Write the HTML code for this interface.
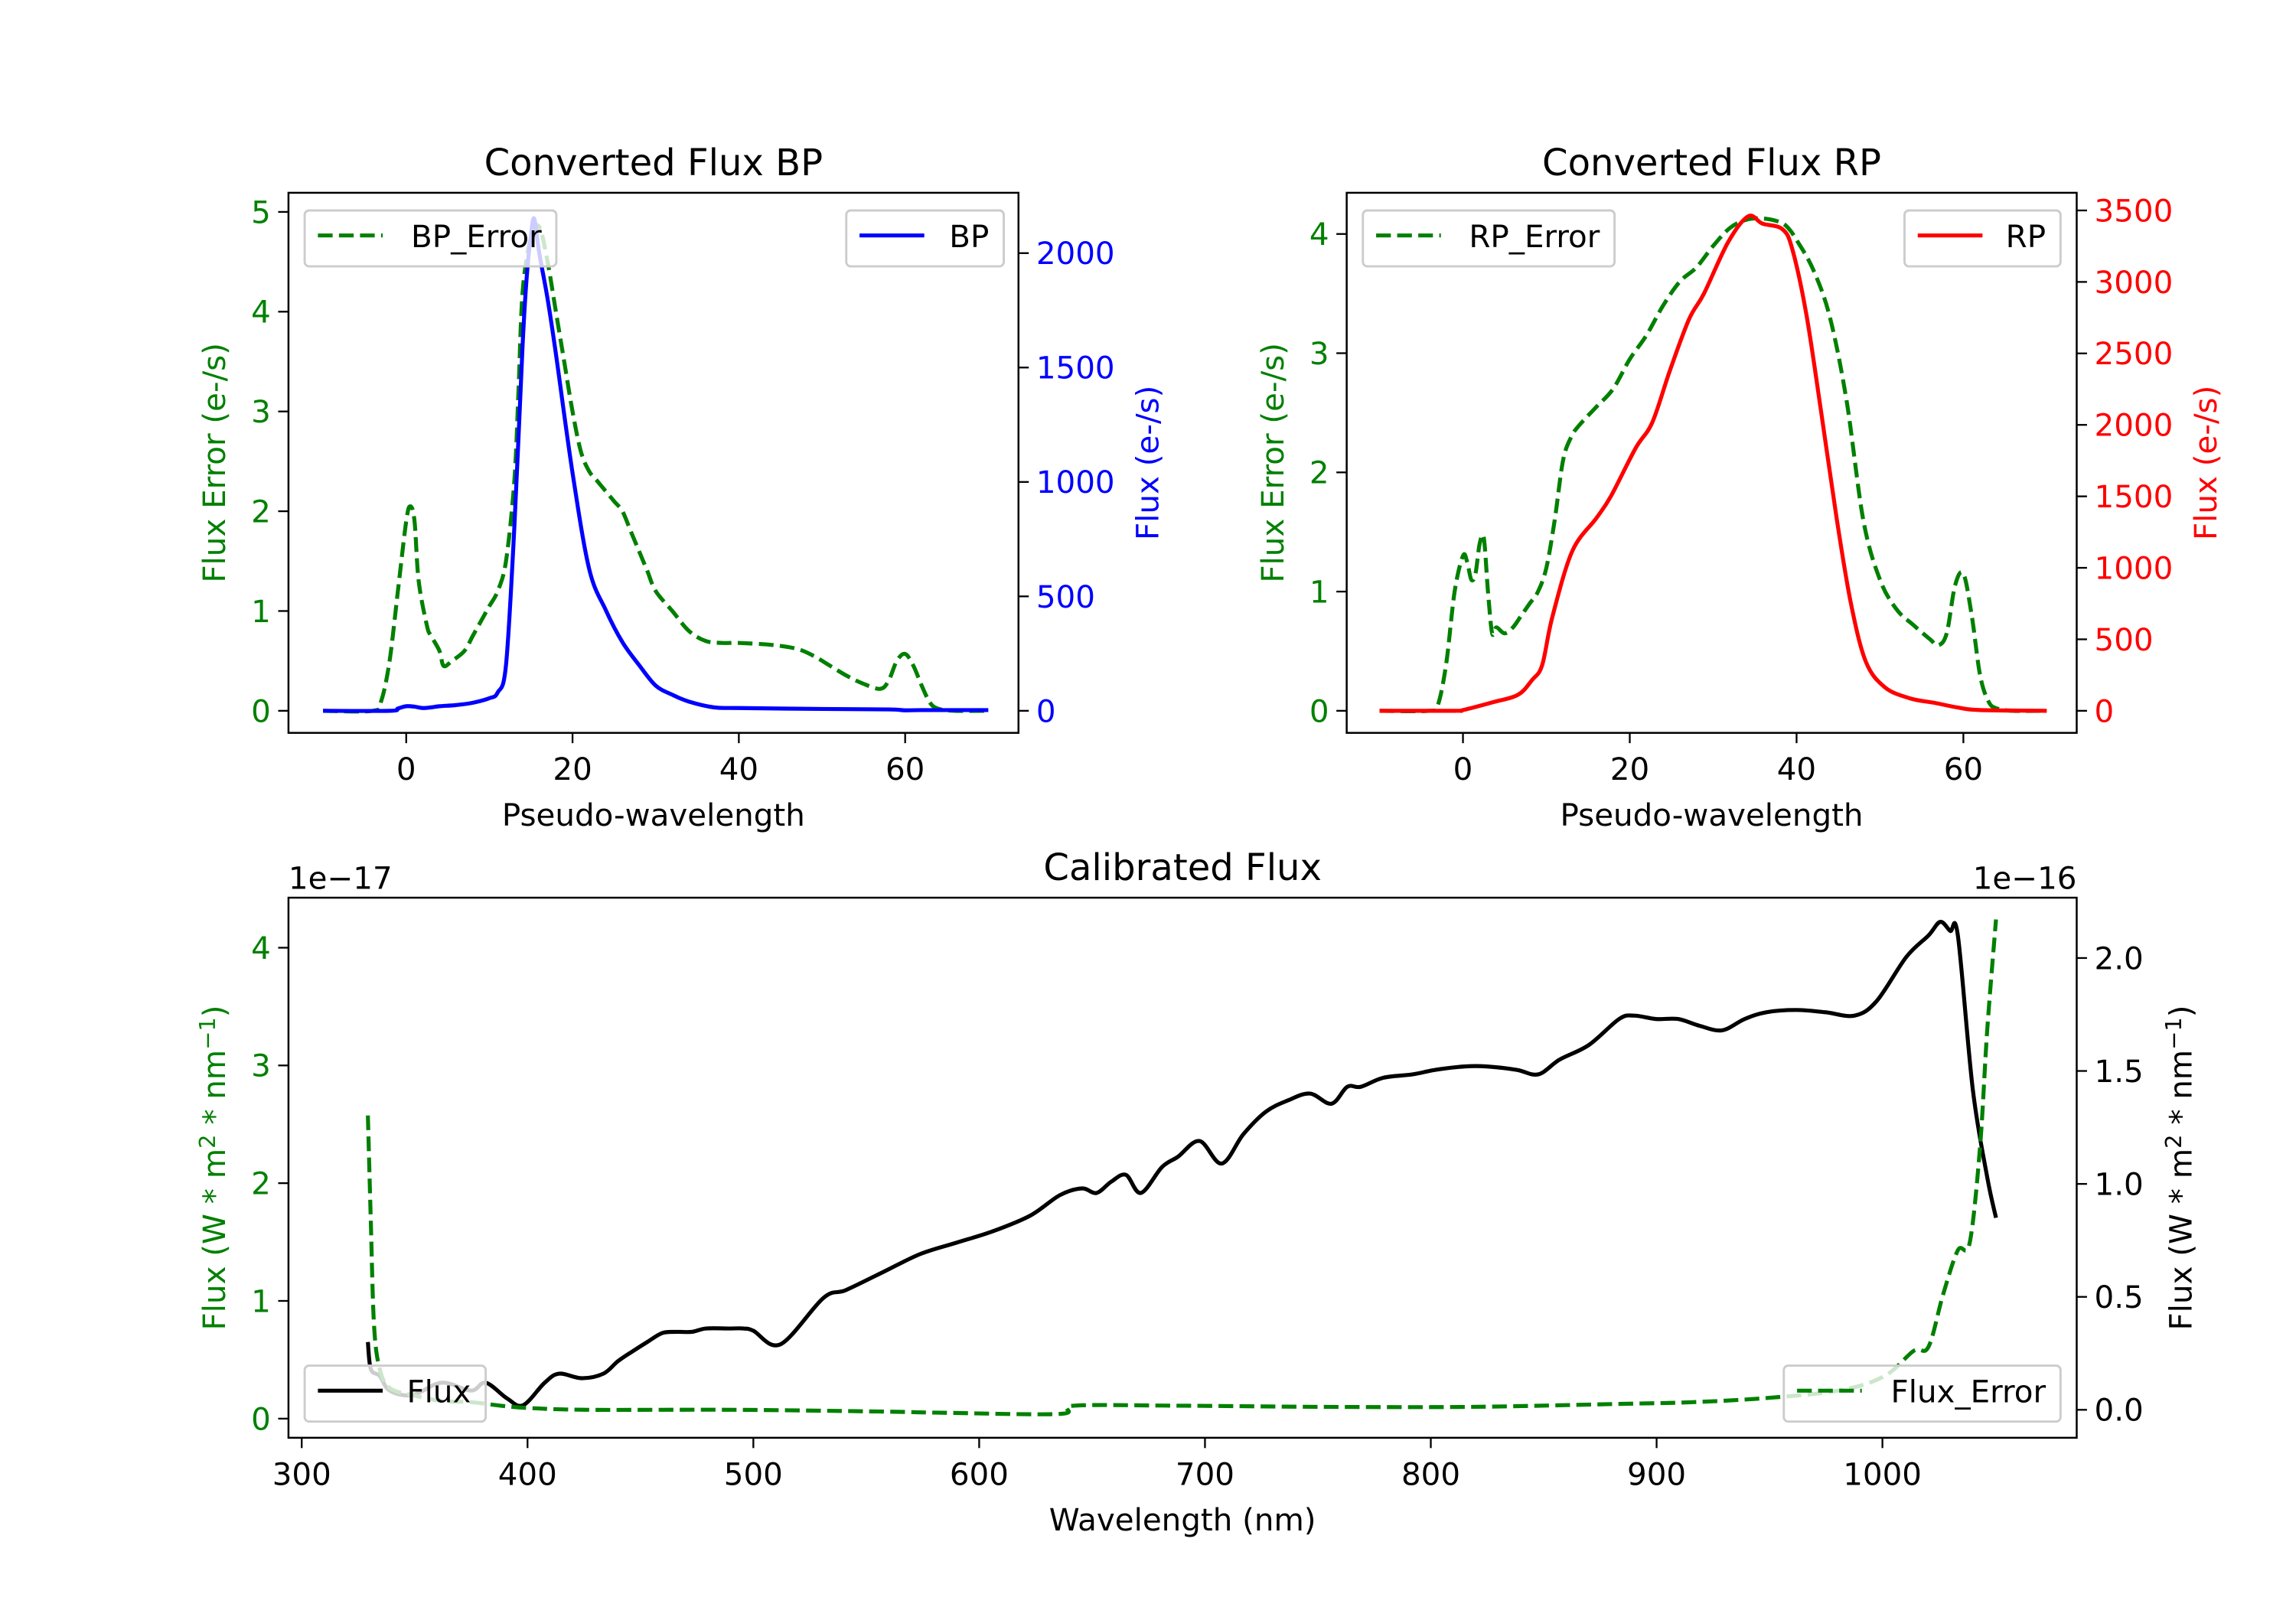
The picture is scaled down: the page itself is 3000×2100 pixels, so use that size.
<!DOCTYPE html>
<html><head><meta charset="utf-8"><title>Flux charts</title>
<style>html,body{margin:0;padding:0;background:#fff}svg{display:block}text{font-family:"DejaVu Sans","Liberation Sans",sans-serif}</style>
</head><body>
<svg id="fig" xmlns="http://www.w3.org/2000/svg" width="3000" height="2100" viewBox="0 0 1560 1092"></svg>
<script>
// ---------- data ----------
const bpErrX=[-10,-4,-3,-2,-1,0,0.5,1,1.5,2.5,3,4,4.5,5.5,7,8,9,10,11,12,13,13.5,14,15,16,17,18,19,20,21,22,23,24,25,26,27,28,29,30,32,34,36,38,40,44,47,49,51,53,55,57,58,59,60,61,62,63,64,66,70];
const bpErrY=[0,0,0.1,0.5,1.2,1.9,2.05,1.9,1.3,0.85,0.75,0.6,0.45,0.5,0.6,0.75,0.9,1.05,1.2,1.5,2.3,3.2,4.2,4.75,4.85,4.5,4.0,3.5,3.0,2.6,2.4,2.3,2.2,2.1,2.0,1.8,1.6,1.4,1.2,1.0,0.8,0.7,0.68,0.68,0.66,0.62,0.55,0.45,0.35,0.27,0.22,0.3,0.5,0.57,0.45,0.25,0.08,0.02,0,0];
const bpX=[-10,-2,-1,0,1,2,3,4,6,8,10,11,12,13,14,14.5,15,15.4,16,17,18,20,22,24,26,28,30,32,34,37,40,50,58,60,62,70];
const bpY=[0,0,10,20,18,12,15,20,25,35,55,80,200,800,1600,1900,2080,2150,2000,1800,1560,1040,620,440,300,200,110,70,40,15,12,8,6,2,3,3];
const rpErrX=[-10,-4,-3,-2,-1,0,0.5,1,1.5,2,2.5,3,3.5,4,5,6,7,8,9,10,11,12,13,14,16,18,20,22,24,26,28,30,32,34,36,38,39,40,42,44,46,48,50,52,54,56,57,58,59,60,61,62,63,64,66,70];
const rpErrY=[0,0,0.05,0.4,1.0,1.3,1.25,1.1,1.15,1.4,1.45,1.0,0.65,0.7,0.65,0.7,0.8,0.9,1.0,1.2,1.6,2.1,2.3,2.4,2.55,2.7,2.95,3.15,3.4,3.6,3.72,3.9,4.05,4.12,4.13,4.1,4.05,3.95,3.7,3.3,2.6,1.6,1.1,0.85,0.72,0.6,0.55,0.65,1.05,1.15,0.8,0.3,0.08,0.02,0,0];
const rpX=[-10,-1,0,3.6,6.6,8.3,9.5,10.7,13.1,16,17.75,20.7,22.7,24.8,27.1,28.9,31.8,34.2,35.9,38.3,39.5,41.2,43,44.8,46.5,48.3,50.6,53.6,56.5,59.4,62,70];
const rpY=[0,0,5,60,112,216,320,652,1116,1348,1502,1837,2017,2378,2738,2919,3279,3459,3408,3369,3227,2764,2069,1348,756,344,164,87,56,22,5,0];
const fluxX=[329.3,330.6,334.5,339,349,362,375,381.5,391,398,407.6,414,424,433.6,440,446.7,453,459.7,466,472.7,479,489,495.6,500,512,531,541,557.5,574,590,606,622.7,635.7,645.5,652,658.5,665,671.6,681,688,697.6,707.4,717,727,736.8,746.5,756,763,769,779,792,802,815,824.8,838,847.6,857,870,883.4,890,899.7,909.5,919,929,939,948.6,961.7,974.7,987.7,997.5,1010.6,1020.4,1025.6,1030,1033.4,1040,1046.4,1050.3];
const fluxY=[0.3,0.18,0.15,0.085,0.065,0.12,0.085,0.12,0.05,0.02,0.12,0.16,0.14,0.16,0.215,0.26,0.3,0.34,0.345,0.345,0.36,0.36,0.36,0.35,0.29,0.495,0.53,0.61,0.69,0.74,0.79,0.86,0.95,0.98,0.96,1.01,1.04,0.96,1.075,1.12,1.19,1.09,1.22,1.32,1.37,1.40,1.355,1.43,1.43,1.47,1.485,1.505,1.52,1.52,1.505,1.485,1.55,1.615,1.73,1.745,1.73,1.73,1.70,1.68,1.73,1.76,1.77,1.76,1.745,1.81,2.005,2.10,2.16,2.12,2.10,1.42,1.03,0.85];
const ferrX=[329.3,330.6,332,334.5,339,349,362,375,388,401,427,492,557.5,583.6,635.7,642,688,753,818,883,916,948.6,981,1000.8,1013.8,1020.4,1026.8,1033.4,1038.6,1043.2,1046.4,1050.3];
const ferrY=[2.575,1.675,0.8,0.425,0.26,0.2,0.15,0.14,0.11,0.09,0.075,0.075,0.06,0.05,0.04,0.11,0.11,0.1,0.1,0.125,0.14,0.175,0.24,0.36,0.575,0.61,1.05,1.43,1.49,2.3,3.3,4.24];
const bpXTicks=[0,20,40,60], bpLTicks=[0,1,2,3,4,5], bpRTicks=[0,500,1000,1500,2000];
const rpXTicks=[0,20,40,60], rpLTicks=[0,1,2,3,4], rpRTicks=[0,500,1000,1500,2000,2500,3000,3500];
const calXTicks=[300,400,500,600,700,800,900,1000], calLTicks=[0,1,2,3,4], calRTicks=["0.0","0.5","1.0","1.5","2.0"];

// ---------- drawing ----------
const NS="http://www.w3.org/2000/svg", svg=document.getElementById('fig');
function mk(tag,attrs,parent,txt){const e=document.createElementNS(NS,tag);for(const k in attrs)e.setAttribute(k,attrs[k]);if(txt!==undefined)e.textContent=txt;(parent||svg).appendChild(e);return e;}
function lin(d0,d1,p0,p1){return v=>p0+(v-d0)*(p1-p0)/(d1-d0);}
function pathD(xs,ys,sx,sy){
  const p=xs.map((x,i)=>[sx(x),sy(ys[i])]);
  let d='M'+p[0][0].toFixed(2)+' '+p[0][1].toFixed(2);
  for(let i=0;i<p.length-1;i++){
    const p0=p[i-1]||p[i],p1=p[i],p2=p[i+1],p3=p[i+2]||p[i+1];
    const c1=[p1[0]+(p2[0]-p0[0])/6,p1[1]+(p2[1]-p0[1])/6];
    const c2=[p2[0]-(p3[0]-p1[0])/6,p2[1]-(p3[1]-p1[1])/6];
    d+=' C'+c1[0].toFixed(2)+' '+c1[1].toFixed(2)+' '+c2[0].toFixed(2)+' '+c2[1].toFixed(2)+' '+p2[0].toFixed(2)+' '+p2[1].toFixed(2);
  }
  return d;
}
const G='#008000';

function panel(o){
  const g=mk('g',{});
  
  
  const t=mk('text',{x:(o.L+o.R)/2,y:o.T-12,'text-anchor':'middle','font-size':25},g,o.title);
  
  o.xt.forEach(v=>{const x=o.sx(+v);mk('line',{x1:x,x2:x,y1:o.B,y2:o.B+7,stroke:'#000','stroke-width':1.2},g);
    const tl=mk('text',{x:x,y:o.B+32,'text-anchor':'middle','font-size':21},g,v);
    });
  o.lt.forEach(v=>{const y=o.syl(+v);mk('line',{x1:o.L-7,x2:o.L,y1:y,y2:y,stroke:'#000','stroke-width':1.2},g);
    const tl=mk('text',{x:o.L-12,y:y+7.5,'text-anchor':'end','font-size':21,fill:o.lc},g,v);
    });
  o.rt.forEach(v=>{const y=o.syr(+v);mk('line',{x1:o.R,x2:o.R+7,y1:y,y2:y,stroke:'#000','stroke-width':1.2},g);
    const tl=mk('text',{x:o.R+12,y:y+7.5,'text-anchor':'start','font-size':21,fill:o.rc},g,v);
    });
  const xl=mk('text',{x:(o.L+o.R)/2,y:o.B+63,'text-anchor':'middle','font-size':21},g,o.xlab);
  
  const cy=(o.T+o.B)/2;
  const yl=mk('text',{x:0,y:0,transform:`translate(${o.ylx},${cy}) rotate(-90)`,'text-anchor':'middle','font-size':21,fill:o.lc},g);
  yl.innerHTML=o.ylab;
  const yr=mk('text',{x:0,y:0,transform:`translate(${o.yrx},${cy}) rotate(-90)`,'text-anchor':'middle','font-size':21,fill:o.rc},g);
  yr.innerHTML=o.yrlab;
  const cid='c'+o.name;const cp=mk('clipPath',{id:cid},g);mk('rect',{x:o.L,y:o.T,width:o.R-o.L,height:o.B-o.T},cp);
  const plot=mk('g',{'clip-path':`url(#${cid})`},g);
  const s2=mk('path',{d:pathD(o.x2,o.y2,o.sx,o.syr),fill:'none',stroke:o.c2,'stroke-width':2.7,'stroke-linejoin':'round','stroke-dasharray':o.d2||'none'},plot);
  
  const s1=mk('path',{d:pathD(o.x1,o.y1,o.sx,o.syl),fill:'none',stroke:o.c1,'stroke-width':2.7,'stroke-linejoin':'round','stroke-dasharray':o.d1||'none'},plot);
  
  if(o.order==='errTop'){plot.appendChild(s2);}
  mk('rect',{x:o.L,y:o.T,width:o.R-o.L,height:o.B-o.T,fill:'none',stroke:'#000','stroke-width':1.3},g);
  o.legends.forEach(lg=>{
    const lgG=mk('g',{},g);
    mk('rect',{x:lg.x,y:lg.y,width:lg.w,height:38,rx:3,fill:'#fff','fill-opacity':0.8,stroke:'#ccc','stroke-width':1.5},lgG);
    mk('line',{x1:lg.x+9,x2:lg.x+53,y1:lg.y+17,y2:lg.y+17,stroke:lg.c,'stroke-width':2.7,'stroke-dasharray':lg.d||'none'},lgG);
    mk('text',{x:lg.x+lg.w-10,y:lg.y+25,'text-anchor':'end','font-size':21},lgG,lg.t);
  });
  return g;
}
const DASH='10 4.3';
panel({name:'bp-panel',title:'Converted Flux BP',L:196,R:692,T:131,B:498,sx:lin(0,60,276,615),syl:lin(0,5,483,144),syr:lin(0,2000,483,172),
  xt:bpXTicks,lt:bpLTicks,rt:bpRTicks,lc:G,rc:'#0000ff',xlab:'Pseudo-wavelength',ylab:'Flux Error (e-/s)',yrlab:'Flux (e-/s)',ylx:153,yrx:787,
  x1:bpErrX,y1:bpErrY,c1:G,d1:DASH,n1:'bp-error-line',x2:bpX,y2:bpY,c2:'#0000ff',n2:'bp-flux-line',order:'errTop',
  legends:[{x:207,y:143,w:171,c:G,d:DASH,t:'BP_Error'},{x:575,y:143,w:107,c:'#0000ff',t:'BP'}]});
panel({name:'rp-panel',title:'Converted Flux RP',L:915,R:1411,T:131,B:498,sx:lin(0,60,994,1334),syl:lin(0,4,483,159),syr:lin(0,3500,483,143),
  xt:rpXTicks,lt:rpLTicks,rt:rpRTicks,lc:G,rc:'#ff0000',xlab:'Pseudo-wavelength',ylab:'Flux Error (e-/s)',yrlab:'Flux (e-/s)',ylx:872,yrx:1506,
  x1:rpErrX,y1:rpErrY,c1:G,d1:DASH,n1:'rp-error-line',x2:rpX,y2:rpY,c2:'#ff0000',n2:'rp-flux-line',order:'errTop',
  legends:[{x:926,y:143,w:171,c:G,d:DASH,t:'RP_Error'},{x:1294,y:143,w:106,c:'#ff0000',t:'RP'}]});
panel({name:'calibrated-panel',title:'Calibrated Flux',L:196,R:1411,T:610,B:977,sx:lin(300,1000,205,1279),syl:lin(0,4,964,644),syr:lin(0,2,958,651),
  xt:calXTicks,lt:calLTicks,rt:calRTicks,lc:G,rc:'#000',xlab:'Wavelength (nm)',
  ylab:'Flux (W * m<tspan dy="-7" font-size="15">2</tspan><tspan dy="7"> * nm</tspan><tspan dy="-7" font-size="15">−1</tspan><tspan dy="7">)</tspan>',
  yrlab:'Flux (W * m<tspan dy="-7" font-size="15">2</tspan><tspan dy="7"> * nm</tspan><tspan dy="-7" font-size="15">−1</tspan><tspan dy="7">)</tspan>',ylx:153,yrx:1489,
  x1:ferrX,y1:ferrY,c1:G,d1:DASH,n1:'flux-error-line',x2:fluxX,y2:fluxY,c2:'#000',n2:'flux-line',
  legends:[{x:207,y:928,w:123,c:'#000',t:'Flux'},{x:1212,y:928,w:188,c:G,d:DASH,t:'Flux_Error'}]});
const o1=mk('text',{x:196,y:604,'font-size':21},svg,'1e−17');

const o2=mk('text',{x:1411,y:604,'font-size':21,'text-anchor':'end'},svg,'1e−16');

</script>
</body></html>
